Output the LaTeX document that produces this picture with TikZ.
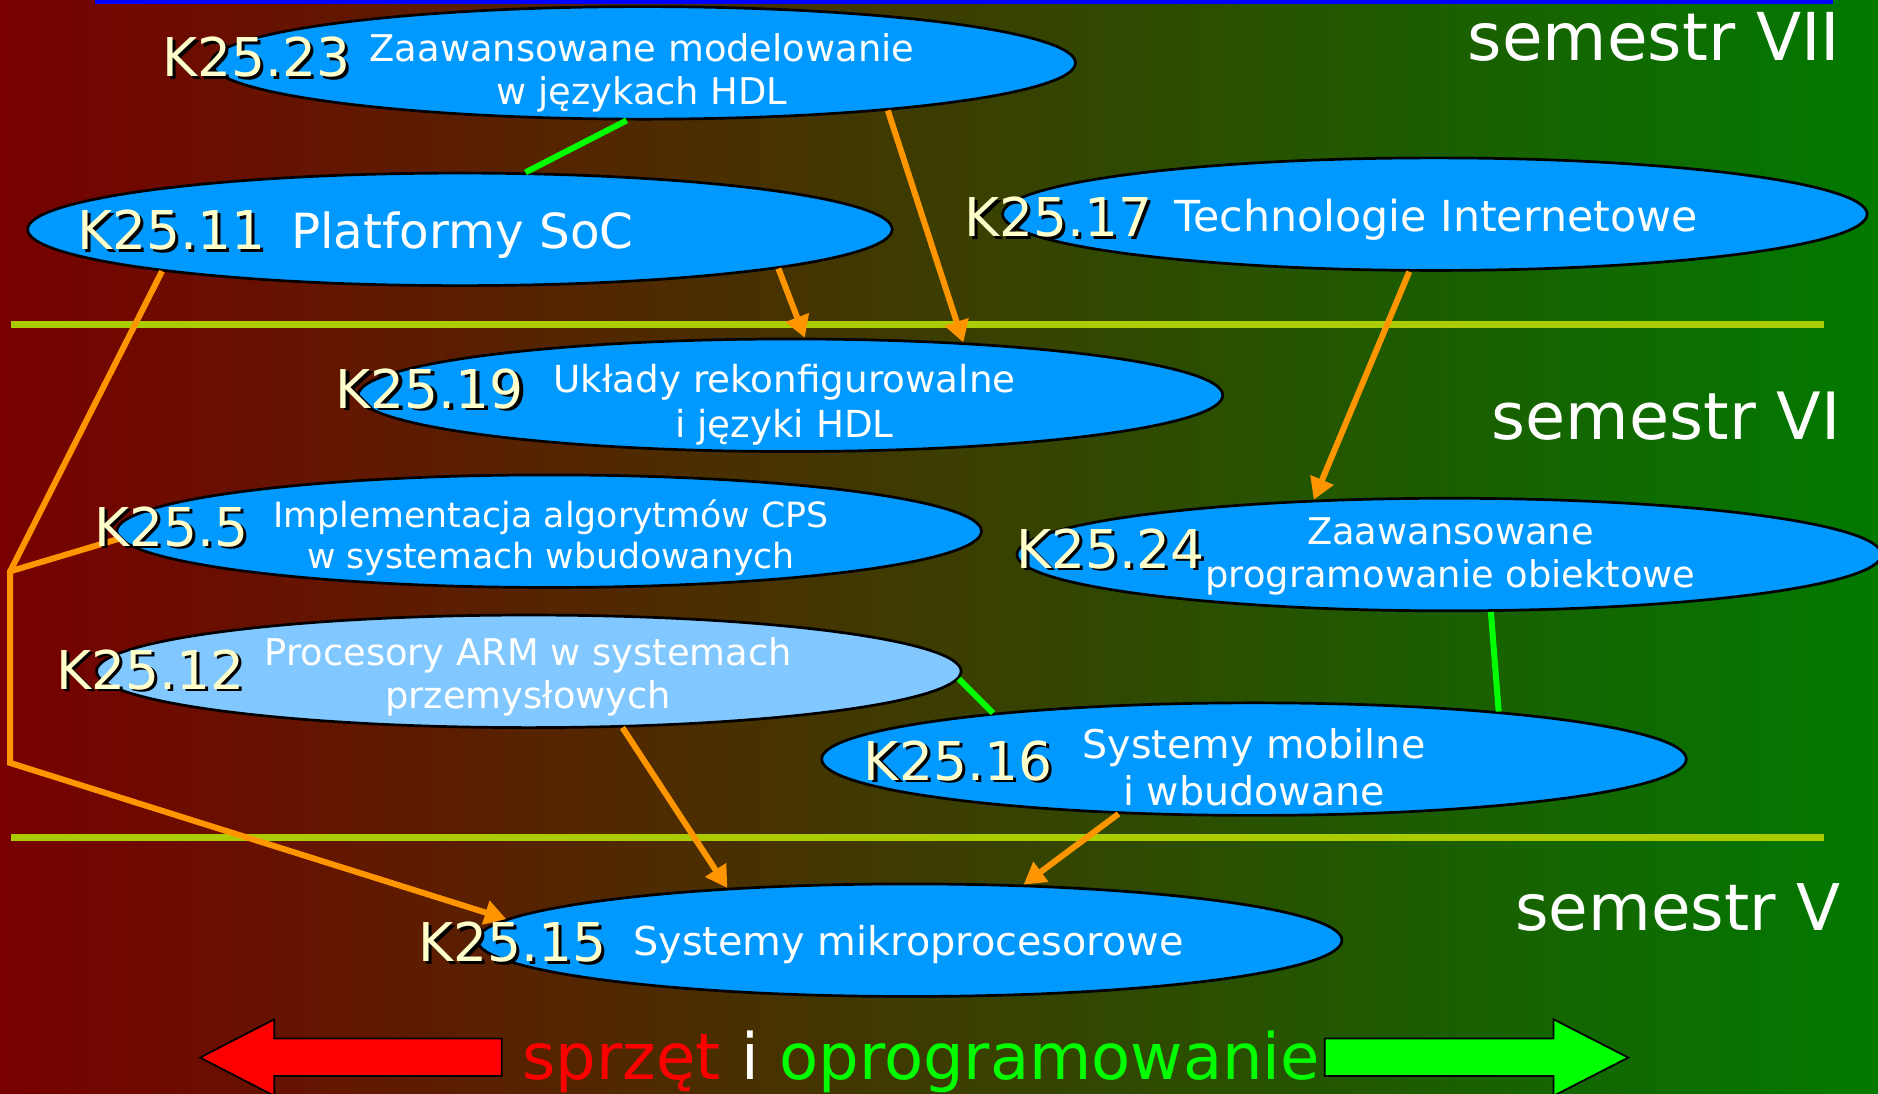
\documentclass[tikz,border=0pt]{standalone}
\usepackage{fontspec}
\setmainfont{DejaVu Sans}
\usetikzlibrary{shapes.geometric,arrows.meta}

\definecolor{bgred}{RGB}{120,0,0}
\definecolor{bggreen}{RGB}{0,122,0}
\definecolor{topicblue}{RGB}{0,153,255}
\definecolor{topiclight}{RGB}{128,200,255}
\definecolor{codecream}{RGB}{255,255,204}
\definecolor{linkorange}{RGB}{255,150,0}
\definecolor{linkgreen}{RGB}{0,255,0}
\definecolor{rulelime}{RGB}{170,204,0}
\definecolor{topblue}{RGB}{0,0,255}

\newcommand{\shadowed}[1]{\makebox[0pt][l]{\hspace{0.054cm}\raisebox{-0.04cm}{\color{black}#1}}#1}

\begin{document}
\begin{tikzpicture}[x=0.02cm,y=-0.02cm]

    \tikzset{
      topic/.style={
        ellipse,
        draw=black,
        line width=0.045cm,
        fill=topicblue,
        minimum width=14.44cm,
        minimum height=1.88cm,
        inner sep=0pt,
      },
      title/.style={text=white, align=center, inner sep=0pt, font=\fontsize{17.5}{20.6}\selectfont},
      code/.style={text=codecream, anchor=base west, inner sep=0pt, font=\fontsize{25.4}{30}\selectfont},
      semester/.style={text=white, anchor=base east, inner sep=0pt, font=\fontsize{31.4}{36}\selectfont},
      prereq/.style={linkorange, line width=0.1cm, -{Triangle[length=0.36cm,width=0.4cm]}},
      related/.style={linkgreen, line width=0.1cm},
      band/.style={rulelime, line width=0.12cm},
    }
    \useasboundingbox (0,0) rectangle (1568,913);
    \clip (0,0) rectangle (1568,913);
    \shade[left color=bgred, right color=bggreen] (0,0) rectangle (1568,913);

	\draw[topblue, line width=0.066cm] (79,1.7) -- (1530,1.7);
	\draw[band] (9,270.8) -- (1523,270.8);
	\draw[band] (9,699) -- (1523,699);

	\node[semester] (sem7) at (1537,50.7) {semestr VII};
	\node[semester, font=\fontsize{31}{36}\selectfont] (sem6) at (1537,367) {semestr VI};
	\node[semester, font=\fontsize{30.6}{36}\selectfont] (sem5) at (1537,777) {semestr V};

	% kursy
	\node[topic] (e23) at (537,52.5) {};
	\node[topic] (e11) at (384,191.5) {};
	\node[topic] (e17) at (1198,178.8) {};
	\node[topic] (e19) at (660,330) {};
	\node[topic] (e5) at (458.5,443.5) {};
	\node[topic] (e24) at (1210,463) {};
	\node[topic, fill=topiclight] (e12) at (441.5,560.5) {};
	\node[topic] (e16) at (1047,633.8) {};
	\node[topic] (e15) at (759.5,785) {};

	% powiazania
	\coordinate (j1) at (8.5,477);
	\coordinate (j2) at (8.5,637);
	\draw[related] (e23.-106.6) -- (e11.41.8);
	\draw[related] (e12.-1.4) -- (e16.170);
	\draw[related] (e24.-54.1) -- (e16.11);
	\draw[prereq] (e23.-11.1) -- (e19.17.5);
	\draw[prereq] (e11.-7.9) -- (e19.76.8);
	\draw[prereq] (e17.-114.1) -- (e24.158.2);
	\draw[prereq] (e12.-31.3) -- (e15.164.6);
	\draw[prereq] (e16.-158.3) -- (e15.26.7);
	\draw[prereq] (e11.-172.2) -- (j1) -- (j2) -- (e15.177.7);
	\draw[linkorange, line width=0.1cm] (j1) -- (e5.-179);

	\node[title] (t23) at (536,60.8) {Zaawansowane modelowanie\\w językach HDL};
	\node[title, font=\fontsize{23}{27}\selectfont] (t11) at (386,196.4) {Platformy SoC};
	\node[title, font=\fontsize{20.3}{24}\selectfont] (t17) at (1199,183.4) {Technologie Internetowe};
	\node[title, font=\fontsize{17.7}{21.4}\selectfont] (t19) at (655,337.7) {Układy rekonfigurowalne\\i języki HDL};
	\node[title, font=\fontsize{16.5}{19.7}\selectfont] (t5) at (460,448.8) {Implementacja algorytmów CPS\\w systemach wbudowanych};
	\node[title] (t24) at (1211,464.7) {Zaawansowane\\programowanie obiektowe};
	\node[title] (t12) at (441,565.2) {Procesory ARM w systemach\\przemysłowych};
	\node[title, font=\fontsize{18.8}{22.6}\selectfont] (t16) at (1047,640.5) {Systemy mobilne\\i wbudowane};
	\node[title, font=\fontsize{18.9}{22.7}\selectfont] (t15) at (758.6,788.7) {Systemy mikroprocesorowe};

	\node[code] (k23) at (135,64) {\shadowed{K25.23}};
	\node[code] (k11) at (64.4,208.7) {\shadowed{K25.11}};
	\node[code] (k17) at (805,197.6) {\shadowed{K25.17}};
	\node[code] (k19) at (280,341) {\shadowed{K25.19}};
	\node[code] (k5) at (78.3,456) {\shadowed{K25.5}};
	\node[code] (k24) at (848,474.5) {\shadowed{K25.24}};
	\node[code] (k12) at (46.6,575.5) {\shadowed{K25.12}};
	\node[code] (k16) at (721,651.3) {\shadowed{K25.16}};
	\node[code] (k15) at (349,803) {\shadowed{K25.15}};

	% sprzet i oprogramowanie
	\draw[black, line width=0.03cm, fill=red] (419,867) -- (229,867) -- (229,851) -- (167,883) -- (229,915) -- (229,898.4) -- (419,898.4) -- cycle;
	\draw[black, line width=0.03cm, fill=linkgreen] (1106,867) -- (1297,867) -- (1297,851) -- (1359.5,883) -- (1297,915) -- (1297,898.4) -- (1106,898.4) -- cycle;
	\node[anchor=base west, inner sep=0pt, font=\fontsize{30.4}{36}\selectfont] (motto) at (436,901.7) {\color{red}sprzęt \color{white}i \color{linkgreen}oprogramowanie};

\end{tikzpicture}
\end{document}
